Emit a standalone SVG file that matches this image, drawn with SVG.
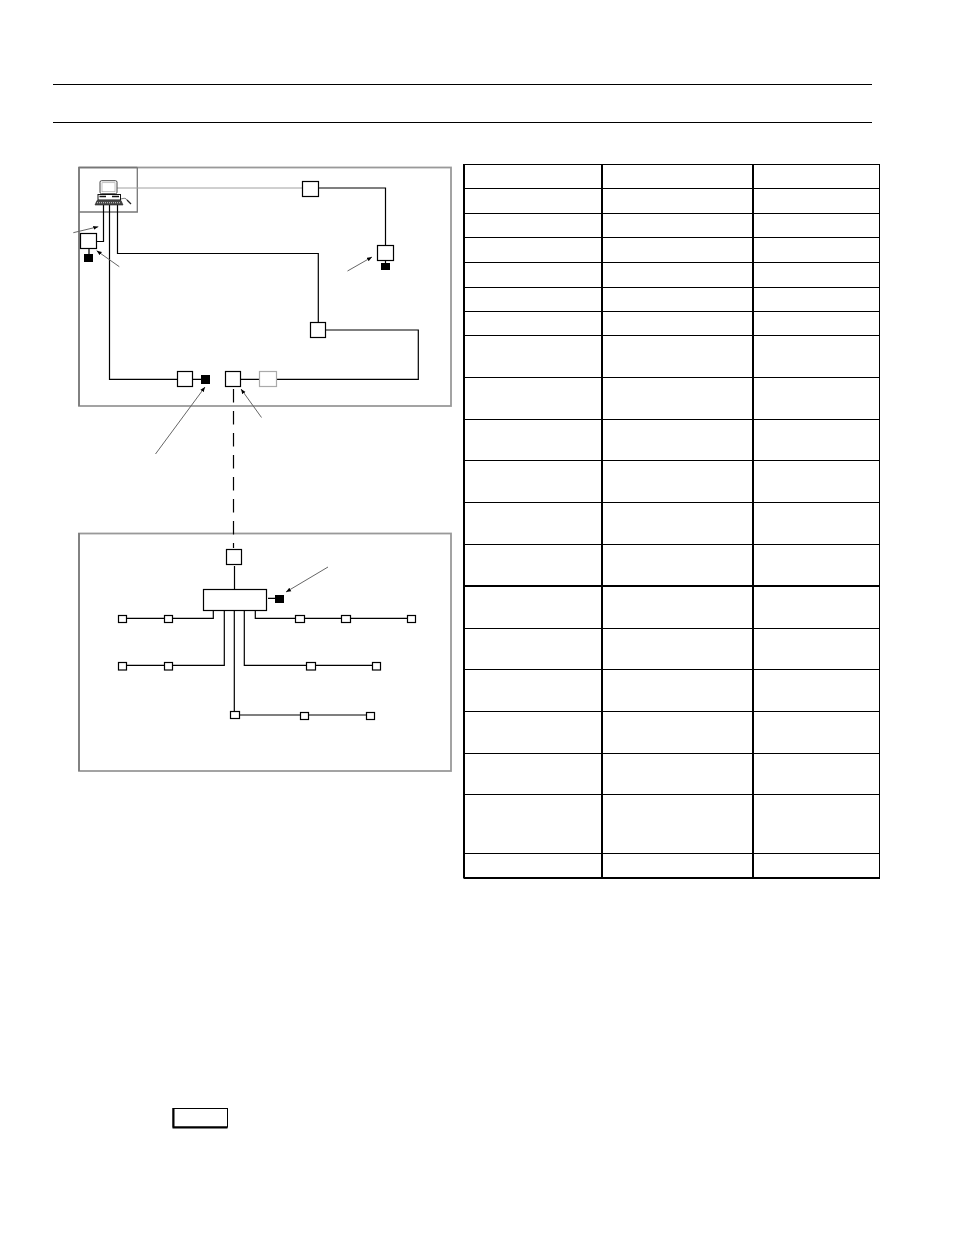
<svg xmlns="http://www.w3.org/2000/svg" width="954" height="1235" viewBox="0 0 954 1235">
<style>
.w{fill:#fff;stroke:#000;stroke-width:1.2}
.g{fill:#fff;stroke:#aaa;stroke-width:1.2}
.k{fill:#000;stroke:none}
.l{fill:none;stroke:#000;stroke-width:1.2}
.p{fill:none;stroke:#999;stroke-width:1.8}
.a{fill:none;stroke:#666;stroke-width:1;marker-end:url(#ah)}
.t1{stroke:#000;stroke-width:1;fill:none}
.t2{stroke:#000;stroke-width:2;fill:none}
</style>
<defs><marker id="ah" markerUnits="userSpaceOnUse" markerWidth="7" markerHeight="6" refX="5" refY="2.5" orient="auto"><path d="M0 0.5L5 2.5L0 4.5Z" fill="#000"/></marker></defs>
<rect width="954" height="1235" fill="#fff"/>
<g id="rules"><path d="M53 84.5H872M53 122.5H872" stroke="#000" stroke-width="1" fill="none"/></g>
<g id="panel-top"><rect class="p" x="79" y="167.5" width="372" height="238.5"/><path d="M137.3 167.5V212H79" fill="none" stroke="#777" stroke-width="1.3"/><path d="M79 167.5H137.3M79 167V406" fill="none" stroke="#777" stroke-width="1.5"/></g>
<g id="panel-bottom"><rect class="p" x="79" y="533.5" width="372" height="237.5"/><path d="M79 533V771" fill="none" stroke="#777" stroke-width="1.5"/></g>
<g id="connectors">
<path d="M117 188H302" stroke="#a0a0a0" stroke-width="1" fill="none"/>
<path class="l" d="M318 188H385.5V245.5M385.5 260V263M103.5 205V241.5H96.5M89 248.5V254M109.5 205V379.3H177.5M192.5 379.3H201M117.5 205V253.5H318.3V322.5M325.5 330H418.3V379.3H276M240.5 379.3H259.5"/>
<path class="l" d="M233.5 389V548" stroke-dasharray="13.5 8.5"/>
<path class="l" d="M234.5 566V589.5M268 598.3H275M213.3 610V618.3H126M164 618.3H126M224.3 610V665.3H126M234.3 610V711.3M239 715H366M244.3 610V665.3H372M255.3 610V618.3H407"/>
<path class="a" d="M73.3 232.7L98.3 226.7"/>
<path class="a" d="M119.3 266.7L96.7 250.7"/>
<path class="a" d="M347.5 271L372 257"/>
<path class="a" d="M155.5 454L205 387"/>
<path class="a" d="M261.5 417.5L241 389"/>
<path class="a" d="M328 567L286 592"/>
</g>
<g id="computer">
<rect x="100" y="180.7" width="17" height="13" rx="1.5" fill="#fff" stroke="#444" stroke-width="1"/>
<rect x="102" y="182.7" width="13" height="9" fill="#fff" stroke="#aaa" stroke-width=".7"/>
<rect x="98" y="194.5" width="22.5" height="5.5" fill="#fff" stroke="#111" stroke-width="1"/>
<path d="M99.5 196.5H106M112 196.5H119" stroke="#111" stroke-width="1.6" fill="none"/>
<path d="M97 200.5H121L123 205H95Z" fill="#444" stroke="#222" stroke-width=".6"/>
<path d="M97 202.7H121" stroke="#ccc" stroke-width="1" stroke-dasharray="1 1" fill="none"/>
<path d="M121 199C124 198 126 198 127 200" stroke="#444" stroke-width=".7" fill="none"/>
<path d="M127 200L131 204" stroke="#222" stroke-width="1.3" fill="none"/>
</g>
<g id="n1"><rect class="w" x="80.5" y="233.5" width="16" height="15"/><rect class="k" x="84" y="254" width="9" height="8"/></g>
<g id="n2"><rect class="w" x="302.5" y="181.5" width="16" height="15"/></g>
<g id="n3"><rect class="w" x="377.5" y="245.5" width="16" height="15"/><rect class="k" x="381" y="263" width="9" height="7"/></g>
<g id="n4"><rect class="w" x="310.5" y="322.5" width="15" height="15"/></g>
<g id="n5"><rect class="w" x="177.5" y="371.5" width="15" height="15"/><rect class="k" x="201" y="375" width="9" height="9"/></g>
<g id="n6"><rect class="w" x="225.5" y="371.5" width="15" height="15"/></g>
<g id="n7"><rect class="g" x="259.5" y="371.5" width="17" height="15"/></g>
<g id="n8"><rect class="w" x="226.5" y="549.5" width="15" height="15"/></g>
<g id="hub"><rect class="w" x="203.5" y="589.5" width="63" height="21"/><rect class="k" x="275" y="595" width="9" height="8"/></g>
<g id="s1"><rect class="w" x="118.5" y="615.5" width="8" height="7"/></g>
<g id="s2"><rect class="w" x="164.5" y="615.5" width="8" height="7"/></g>
<g id="s3"><rect class="w" x="118.5" y="662.5" width="8" height="7.5"/></g>
<g id="s4"><rect class="w" x="164.5" y="662.5" width="8" height="7.5"/></g>
<g id="s5"><rect class="w" x="230.5" y="711.5" width="9" height="7"/></g>
<g id="s6"><rect class="w" x="300.5" y="712.5" width="8" height="7"/></g>
<g id="s7"><rect class="w" x="366.5" y="712.5" width="8" height="7"/></g>
<g id="s8"><rect class="w" x="306.5" y="662.5" width="9" height="7.5"/></g>
<g id="s9"><rect class="w" x="372.5" y="662.5" width="8" height="7.5"/></g>
<g id="s10"><rect class="w" x="295.5" y="615.5" width="9" height="7"/></g>
<g id="s11"><rect class="w" x="341.5" y="615.5" width="9" height="7"/></g>
<g id="s12"><rect class="w" x="407.5" y="615.5" width="8" height="7"/></g>
<g id="table">
<path class="t1" d="M464 164.5H879.5M464 188.5H879.5M464 213.5H879.5M464 237.5H879.5M464 262.5H879.5M464 287.5H879.5M464 311.5H879.5M464 335.5H879.5M464 377.5H879.5M464 419.5H879.5M464 460.5H879.5M464 502.5H879.5M464 544.5H879.5M464 628.5H879.5M464 669.5H879.5M464 711.5H879.5M464 753.5H879.5M464 794.5H879.5M464 853.5H879.5M879.5 164V878"/>
<path class="t2" d="M464 164V878.5M602 164V878M753 164V878M464 586H880M464 878H880"/>
</g>
<g id="note"><rect x="173" y="1108.5" width="54.5" height="18.5" fill="#fff" stroke="#000" stroke-width="1"/><path d="M173.5 1108V1127.5H227.5" fill="none" stroke="#000" stroke-width="2"/></g>
</svg>
